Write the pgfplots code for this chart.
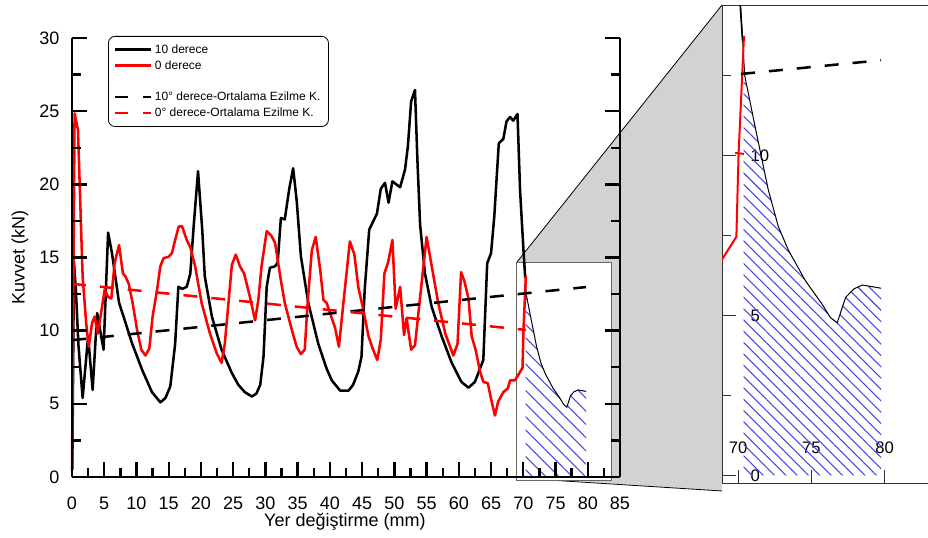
\documentclass[border=0pt]{standalone}
\usepackage{fontspec}
\setmainfont{Liberation Sans}
\usepackage{pgfplots}
\pgfplotsset{compat=1.18}
\usetikzlibrary{patterns.meta}

\definecolor{conn}{RGB}{210,210,210}
\definecolor{hatch}{RGB}{70,70,235}

\begin{document}
\begin{tikzpicture}
% page is 928 x 538 px, 1 px = 0.75pt
\path[use as bounding box] (0pt,0pt) rectangle (696pt,403.5pt);
\clip (0pt,0pt) rectangle (696pt,403.5pt);

% grey connector between zoom box and magnified view
\fill[conn] (387.75pt,207pt) -- (541.5pt,399.75pt) -- (541.5pt,35.25pt) -- (387.75pt,45.75pt) -- cycle;
\draw[line width=0.6pt] (387.75pt,207pt) -- (541.5pt,399.75pt);
\draw[line width=0.6pt] (387.75pt,45pt) -- (541.5pt,35.25pt);

\begin{axis}[
  at={(54pt,45.75pt)}, anchor=south west,
  scale only axis, width=411pt, height=329.25pt,
  xmin=0, xmax=85, ymin=0, ymax=30,
  axis x line*=bottom, axis y line*=box,
  axis line style={line width=2pt,-},
  clip=false, axis on top,
  xtick={0,5,...,85}, ytick={0,5,...,30},
  minor x tick num=1, minor y tick num=1,
  tick align=inside, yticklabel pos=left,
  major tick length=11pt, minor tick length=7pt,
  tick style={line width=1.8pt,black},
  /pgf/number format/assume math mode=true,
  tick label style={font=\fontsize{13.5}{16}\selectfont},
  yticklabel style={xshift=-6pt},
  xticklabel style={yshift=-11.5pt},
  xlabel={Yer değiştirme (mm)}, ylabel={Kuvvet (kN)},
  label style={font=\fontsize{13.5}{16}\selectfont},
  xlabel style={at={(rel axis cs:0.498,-0.1025)}, anchor=center},
  ylabel style={at={(rel axis cs:-0.0949,0.5)}, anchor=center},
  legend style={at={(rel axis cs:0.0657,1.0046)}, anchor=north west,
    draw=black, line width=0.6pt, rounded corners=5pt,
    font=\fontsize{9}{10.8}\selectfont, inner xsep=4pt, inner ysep=4pt,
    row sep=0pt},
  legend cell align=left,
  legend image code/.code={\draw[#1] (0pt,0pt) -- (27pt,0pt);},
]
% zoom box
\fill[white] (axis cs:68.9,-0.26) rectangle (axis cs:83.6,14.68);
\draw[black!60, line width=0.6pt] (axis cs:68.9,-0.26) rectangle (axis cs:83.6,14.68);

\addplot[draw=none, pattern={Lines[angle=-45,distance=7pt,line width=0.8pt]}, pattern color=hatch, forget plot]
coordinates {(70.38,12.75) (70.45,12.5) (71.14,10.94) (72.05,8.94) (72.74,7.78) (73.43,7.04) (74.58,6.09) (75.73,5.35) (76.3,4.93) (76.76,4.77) (77.33,5.56) (77.9,5.83) (78.48,5.95) (79.75,5.85)} \closedcycle;
\addplot[black, line width=0.75pt, forget plot]
coordinates {(70.17,14.65) (70.45,12.5) (71.14,10.94) (72.05,8.94) (72.74,7.78) (73.43,7.04) (74.58,6.09) (75.73,5.35) (76.3,4.93) (76.76,4.77) (77.33,5.56) (77.9,5.83) (78.48,5.95) (79.75,5.85)};

% 10 derece
\addplot[black, line width=1.9pt, line join=round, forget plot] coordinates {
(0.05,0.5) (0.3,14.7) (0.6,12.8) (1.0,9.0) (1.65,5.4) (2.5,9.6) (3.2,5.95) (3.9,11.2) (4.9,8.7)
(5.6,16.7) (6.2,15.3) (7.3,11.9) (8.0,10.96) (9.3,9.15) (10.9,7.3) (12.4,5.8) (13.7,5.1) (14.5,5.4)
(15.25,6.2) (16.0,9.1) (16.5,13.0) (17.1,12.85) (17.8,13.0) (18.35,13.9) (18.9,17.3) (19.55,20.9)
(20.2,16.9) (20.6,13.7) (21.7,10.96) (23.2,8.7) (24.8,7.1) (25.8,6.3) (26.8,5.8) (27.9,5.5) (28.6,5.7)
(29.2,6.3) (29.7,8.2) (30.2,13.0) (30.7,14.3) (31.5,14.4) (31.9,14.65) (32.4,17.7) (33.0,17.6)
(33.7,19.7) (34.3,21.1) (34.85,18.9) (35.5,15.1) (36.65,11.9) (38.2,9.1) (39.5,7.4) (40.3,6.6)
(41.6,5.9) (42.9,5.9) (43.6,6.3) (44.4,7.2) (44.9,8.2) (45.4,12.8) (46.1,16.9) (47.3,18.0) (47.9,19.7)
(48.55,20.1) (49.1,18.75) (49.7,20.2) (50.9,19.8) (51.65,21.0) (52.1,22.6) (52.6,25.65) (53.2,26.45)
(53.6,21.4) (54.0,17.2) (54.75,13.9) (55.8,11.6) (57.35,9.6) (58.9,7.8) (60.4,6.5) (61.5,6.1)
(62.5,6.5) (63.8,8.0) (64.4,14.6) (65.0,15.3) (65.5,17.8) (66.2,22.8) (66.9,23.1) (67.4,24.3)
(67.95,24.6) (68.45,24.35) (69.1,24.8) (69.5,19.6) (70.0,15.7) (70.3,13.6)};

% 0 derece
\addplot[red, line width=1.9pt, line join=round, forget plot] coordinates {
(0.0,0.5) (0.2,12) (0.4,24.85) (0.93,23.7) (1.3,18.5) (1.65,13.7) (2.2,10.5) (2.6,8.9) (3.1,10.5)
(3.5,10.96) (4.0,9.8) (4.65,11.6) (5.07,12.8) (5.6,12.3) (6.1,12.2) (6.6,14.6) (7.3,15.85) (7.9,13.9)
(8.3,13.7) (8.8,13.2) (9.4,11.9) (10.1,10.05) (10.75,8.7) (11.4,8.3) (12.0,8.8) (12.5,10.96)
(13.2,12.8) (13.7,14.4) (14.2,14.95) (15.0,15.05) (15.5,15.3) (16.0,16.2) (16.55,17.1) (17.06,17.15)
(17.8,16.2) (18.35,15.7) (19.1,14.4) (20.1,11.9) (21.4,9.8) (22.45,8.45) (23.2,7.8) (23.7,9.1)
(24.8,14.5) (25.4,15.2) (26.05,14.4) (26.7,13.9) (27.6,12.3) (28.4,10.7) (28.9,12.1) (29.4,14.4)
(30.2,16.8) (30.9,16.5) (31.5,16.0) (32.3,13.7) (33.0,11.9) (34.1,10.05) (34.85,8.9) (35.5,8.4)
(36.1,8.7) (36.55,11.9) (37.2,15.5) (37.8,16.4) (38.5,14.15) (39.0,12.1) (39.5,11.9) (40.3,10.85)
(40.8,10.2) (41.4,8.9) (42.1,11.9) (43.1,16.1) (43.8,15.2) (44.4,13.0) (45.2,11.4) (46.0,9.6)
(46.7,8.7) (47.35,8.0) (47.9,9.4) (48.45,13.9) (49.05,14.7) (49.7,16.2) (50.2,11.5) (50.9,13.0)
(51.5,9.7) (51.9,10.85) (52.6,8.7) (53.2,9.0) (53.9,11.9) (55.0,16.4) (55.8,14.4) (56.8,11.9)
(57.9,9.8) (59.15,8.3) (59.8,9.1) (60.35,14.0) (60.85,13.4) (61.5,12.2) (62.0,9.6) (62.6,8.7)
(63.3,7.2) (63.8,6.5) (64.5,6.4) (65.1,5.15) (65.6,4.2) (66.1,5.15) (66.9,5.8) (67.6,6.05)
(67.95,6.6) (68.7,6.6) (69.88,7.46) (70.03,10.04) (70.4,13.74)};

% average crushing force lines
\addplot[black, line width=1.9pt, dash pattern=on 10.5pt off 10.5pt, forget plot] coordinates {(0,9.35) (79.75,12.98)};
\addplot[red, line width=1.9pt, dash pattern=on 10.5pt off 10.5pt, forget plot] coordinates {(0,13.2) (70.4,10.05)};

\addlegendimage{black, line width=1.9pt}
\addlegendentry{10 derece}
\addlegendimage{red, line width=1.9pt}
\addlegendentry{0 derece}
\addlegendimage{empty legend}
\addlegendentry{\rule{0pt}{6pt}}
\addlegendimage{black, line width=1.9pt, dash pattern=on 10pt off 11pt}
\addlegendentry{10° derece-Ortalama Ezilme K.}
\addlegendimage{red, line width=1.9pt, dash pattern=on 10pt off 11pt}
\addlegendentry{0° derece-Ortalama Ezilme K.}
\end{axis}

% magnified view
\begin{axis}[
  at={(541.5pt,40.8pt)}, anchor=south west,
  scale only axis, width=161.6pt, height=358.3pt,
  xmin=68.9, xmax=83.6, ymin=-0.26, ymax=14.68,
  axis background/.style={fill=white},
  axis line style={line width=0.6pt, black!80},
  xtick={70,75,80}, ytick={0,5,10}, minor ytick={2.5,7.5,12.5},
  tick align=inside, xtick pos=bottom, ytick pos=left,
  major tick length=10.5pt, minor tick length=7pt,
  tick style={line width=0.6pt, black!80},
  /pgf/number format/assume math mode=true,
  tick label style={font=\fontsize{12.5}{15}\selectfont},
  yticklabel style={anchor=west, xshift=18pt},
  xticklabel style={anchor=south, yshift=19.2pt},
]
\addplot[draw=none, pattern={Lines[angle=-45,distance=6pt,line width=0.8pt]}, pattern color=hatch]
coordinates {(70.38,12.75) (70.45,12.5) (71.14,10.94) (72.05,8.94) (72.74,7.78) (73.43,7.04) (74.58,6.09) (75.73,5.35) (76.3,4.93) (76.76,4.77) (77.33,5.56) (77.9,5.83) (78.48,5.95) (79.75,5.85)} \closedcycle;
\addplot[black, line width=0.75pt]
coordinates {(70.17,14.65) (70.45,12.5) (71.14,10.94) (72.05,8.94) (72.74,7.78) (73.43,7.04) (74.58,6.09) (75.73,5.35) (76.3,4.93) (76.76,4.77) (77.33,5.56) (77.9,5.83) (78.48,5.95) (79.75,5.85)};
\addplot[black, line width=1.2pt] coordinates {(69.5,19.6) (70.0,15.7) (70.3,13.6)};
\addplot[red, line width=1.5pt, line join=round] coordinates {(67.95,6.6) (68.7,6.6) (69.88,7.46) (70.03,10.04) (70.4,13.74)};
\addplot[black, line width=1.9pt, dash pattern=on 10.5pt off 10.5pt] coordinates {(70.2,12.55) (79.75,12.98)};
\addplot[red, line width=1.5pt] coordinates {(69.8,10.08) (70.4,10.05)};
\end{axis}
\end{tikzpicture}
\end{document}
